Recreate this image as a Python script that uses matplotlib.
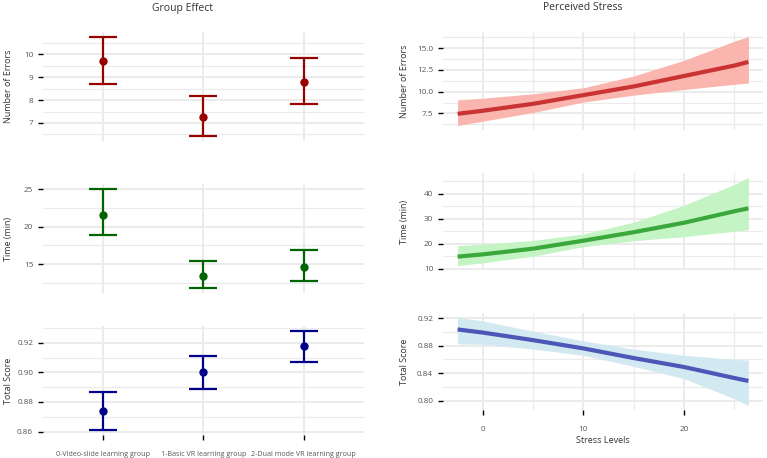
import numpy as np
import matplotlib
matplotlib.use('Agg')
import matplotlib.pyplot as plt
from matplotlib.ticker import FixedLocator, FormatStrFormatter

plt.rcParams['font.family'] = ['Open Sans', 'DejaVu Sans']

# Group effect data (estimate, lower, upper)
groups = ['0-Video-slide learning group', '1-Basic VR learning group', '2-Dual mode VR learning group']
err_est = [9.71, 7.25, 8.79]
err_lo = [8.71, 6.43, 7.81]
err_hi = [10.75, 8.16, 9.82]
time_est = [21.6, 13.4, 14.55]
time_lo = [18.84, 11.79, 12.68]
time_hi = [25.05, 15.45, 16.93]
score_est = [0.874, 0.9003, 0.9177]
score_lo = [0.861, 0.889, 0.9068]
score_hi = [0.887, 0.9114, 0.928]

# Perceived stress predictions
stress = [-2.5, 0, 5, 10, 15, 20, 25, 26.4]
err_fit = [7.45, 7.8, 8.6, 9.6, 10.6, 11.8, 13.0, 13.42]
err_fit_lo = [6.1, 6.6, 7.6, 8.8, 9.6, 10.25, 10.85, 10.98]
err_fit_hi = [9.05, 9.25, 9.75, 10.45, 11.8, 13.6, 15.8, 16.35]
time_fit = [14.8, 15.7, 18.0, 21.2, 24.6, 28.4, 33.0, 34.2]
time_fit_lo = [11.2, 12.3, 15.0, 18.8, 21.2, 22.8, 25.0, 25.6]
time_fit_hi = [19.2, 19.8, 21.3, 23.9, 28.6, 35.4, 43.8, 46.6]
score_fit = [0.9035, 0.899, 0.888, 0.876, 0.862, 0.849, 0.833, 0.8288]
score_fit_lo = [0.8825, 0.882, 0.875, 0.866, 0.850, 0.832, 0.803, 0.793]
score_fit_hi = [0.921, 0.916, 0.901, 0.887, 0.875, 0.866, 0.860, 0.859]

W, H = 767, 458
fig = plt.figure(figsize=(W / 100, H / 100), dpi=100)


def box(x0, x1, y0, y1):
    return fig.add_axes([x0 / W, 1 - y1 / H, (x1 - x0) / W, (y1 - y0) / H])


grid_c = '#ebebeb'


def style(ax):
    for s in ax.spines.values():
        s.set_visible(False)
    ax.set_axisbelow(True)
    ax.grid(True, which='major', color=grid_c, lw=1.4)
    ax.grid(True, which='minor', color=grid_c, lw=0.9)
    ax.tick_params(which='major', length=3.6, width=1.0, color='black',
                   labelsize=5.9, labelcolor='#555555', pad=3.5)
    ax.tick_params(which='minor', length=0)


def group_panel(ax, est, lo, hi, color, ylabel, major, minor, bottom):
    x = np.arange(1, 4)
    yerr = [np.array(est) - np.array(lo), np.array(hi) - np.array(est)]
    ax.errorbar(x, est, yerr=yerr, fmt='o', color=color, ms=5, lw=1.6,
                capsize=10, capthick=1.6)
    ax.set_xlim(0.4, 3.6)
    rng = max(hi) - min(lo)
    ax.set_ylim(min(lo) - 0.05 * rng, max(hi) + 0.05 * rng)
    ax.set_xticks(x)
    ax.yaxis.set_major_locator(FixedLocator(major))
    ax.yaxis.set_minor_locator(FixedLocator(minor))
    style(ax)
    ax.set_ylabel(ylabel, fontsize=6.5, color='#333333')
    ax.yaxis.set_label_coords(-0.092, 0.5)
    if bottom:
        ax.set_xticklabels(groups, fontsize=5.1, color='#555555')
        ax.tick_params(axis='x', pad=8)
    else:
        ax.tick_params(axis='x', length=0, labelbottom=False)


def stress_panel(ax, fit, lo, hi, line_c, fill_c, ylabel, major, minor, bottom):
    ax.fill_between(stress, lo, hi, color=fill_c, lw=0)
    ax.plot(stress, fit, color=line_c, lw=3.0, solid_capstyle='butt')
    ax.set_xlim(-3.95, 27.85)
    rng = max(hi) - min(lo)
    ax.set_ylim(min(lo) - 0.05 * rng, max(hi) + 0.05 * rng)
    ax.xaxis.set_major_locator(FixedLocator([0, 10, 20]))
    ax.xaxis.set_minor_locator(FixedLocator([5, 15, 25]))
    ax.yaxis.set_major_locator(FixedLocator(major))
    ax.yaxis.set_minor_locator(FixedLocator(minor))
    style(ax)
    ax.set_ylabel(ylabel, fontsize=6.5, color='#333333')
    ax.yaxis.set_label_coords(-0.106, 0.5)
    if bottom:
        ax.tick_params(axis='x', pad=8)
        ax.set_xlabel('Stress Levels', fontsize=6.5, color='#333333', labelpad=2)
    else:
        ax.tick_params(axis='x', which='major', length=0, labelbottom=False)


ax1 = box(43, 364, 32, 141)
group_panel(ax1, err_est, err_lo, err_hi, '#990000', 'Number of Errors',
            [7, 8, 9, 10], [6.5, 7.5, 8.5, 9.5, 10.5], False)
ax2 = box(43, 364, 184, 293)
group_panel(ax2, time_est, time_lo, time_hi, '#006400', 'Time (min)',
            [15, 20, 25], [12.5, 17.5, 22.5], False)
ax3 = box(43, 364, 326, 435)
group_panel(ax3, score_est, score_lo, score_hi, '#00008B', 'Total Score',
            [0.86, 0.88, 0.90, 0.92], [0.87, 0.89, 0.91, 0.93], True)
ax3.yaxis.set_major_formatter(FormatStrFormatter('%.2f'))

ax4 = box(443, 763, 32, 130)
stress_panel(ax4, err_fit, err_fit_lo, err_fit_hi, '#c93333', '#f9b5ae', 'Number of Errors',
             [7.5, 10.0, 12.5, 15.0], [6.25, 8.75, 11.25, 13.75, 16.25], False)
ax4.yaxis.set_major_formatter(FormatStrFormatter('%.1f'))
ax5 = box(443, 763, 173, 270)
stress_panel(ax5, time_fit, time_fit_lo, time_fit_hi, '#3ba83b', '#c4f3c4', 'Time (min)',
             [10, 20, 30, 40], [15, 25, 35, 45], False)
ax6 = box(443, 763, 313, 410)
stress_panel(ax6, score_fit, score_fit_lo, score_fit_hi, '#4b58b8', '#d3e9f1', 'Total Score',
             [0.80, 0.84, 0.88, 0.92], [0.82, 0.86, 0.90], True)
ax6.yaxis.set_major_formatter(FormatStrFormatter('%.2f'))

fig.text(183 / W, 1 - 8 / H, 'Group Effect', ha='center', va='center', fontsize=7.5, color='#333333')
fig.text(583 / W, 1 - 8 / H, 'Perceived Stress', ha='center', va='center', fontsize=7.5, color='#333333')

fig.savefig('out.png', dpi=100, facecolor='white')
